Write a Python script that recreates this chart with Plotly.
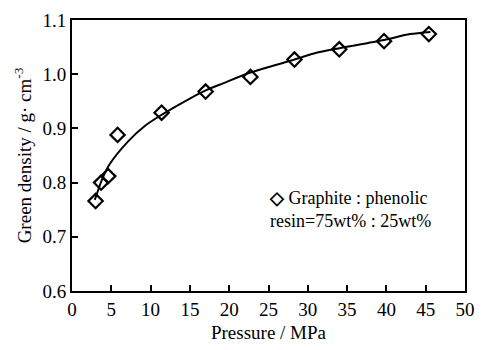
import plotly.graph_objects as go

# measured points
pressure = [3.0, 3.7, 4.6, 5.8, 11.4, 17.0, 22.7, 28.3, 34.0, 39.7, 45.4]
density = [0.766, 0.800, 0.812, 0.888, 0.929, 0.968, 0.995, 1.027, 1.046, 1.061, 1.074]

# fitted trend curve
curve_p = [2.9, 3.3, 3.8, 4.7, 7.2, 9.3, 11.4, 15.0, 17.0, 19.2, 22.7, 28.3, 31.2, 34.0, 39.7, 43.0, 45.6]
curve_d = [0.768, 0.785, 0.805, 0.832, 0.877, 0.905, 0.925, 0.955, 0.970, 0.983, 1.003, 1.027, 1.040, 1.048, 1.063, 1.074, 1.078]

x_ticks = [0, 5, 10, 15, 20, 25, 30, 35, 40, 45, 50]
y_ticks = [0.6, 0.7, 0.8, 0.9, 1.0, 1.1]

FONT = "Liberation Serif, Times New Roman, serif"

fig = go.Figure()
fig.add_trace(go.Scatter(
    x=curve_p, y=curve_d, mode="lines", line=dict(color="black", width=2, shape="spline", smoothing=0.8),
    showlegend=False, hoverinfo="skip"))
fig.add_trace(go.Scatter(
    x=pressure, y=density, mode="markers", name="Graphite : phenolic",
    marker=dict(symbol="diamond-open", size=11, color="black", line=dict(color="black", width=2.2)),
    showlegend=False))

fig.update_layout(
    width=485, height=350,
    margin=dict(l=72, r=10, t=14, b=56),
    paper_bgcolor="white", plot_bgcolor="white",
    font=dict(family=FONT, size=18, color="black"),
    showlegend=False,
    xaxis=dict(range=[0, 50], tickvals=x_ticks, ticktext=[str(v) for v in x_ticks],
               ticks="inside", ticklen=6, tickwidth=2, tickcolor="black",
               showline=True, linecolor="black", linewidth=2, mirror=True,
               showgrid=False, zeroline=False,
               title=dict(text="Pressure / MPa", font=dict(family=FONT, size=19, color="black"), standoff=7),
               tickfont=dict(family=FONT, size=19, color="black")),
    yaxis=dict(range=[0.6, 1.1], tickvals=y_ticks, ticktext=[f"{v:.1f}" for v in y_ticks],
               ticks="inside", ticklen=6, tickwidth=2, tickcolor="black",
               showline=True, linecolor="black", linewidth=2, mirror=True,
               showgrid=False, zeroline=False,
               title=dict(text="Green density / g· cm<sup>-3</sup>", font=dict(family=FONT, size=19, color="black"), standoff=6),
               tickfont=dict(family=FONT, size=19, color="black")),
)

fig.add_annotation(text="<b>◇</b> Graphite : phenolic<br>resin=75wt% : 25wt%", xref="paper", yref="paper",
                   x=0.495, y=0.30, xanchor="left", yanchor="middle", showarrow=False, align="left",
                   font=dict(family=FONT, size=18, color="black"))

fig.write_html("out.html")
